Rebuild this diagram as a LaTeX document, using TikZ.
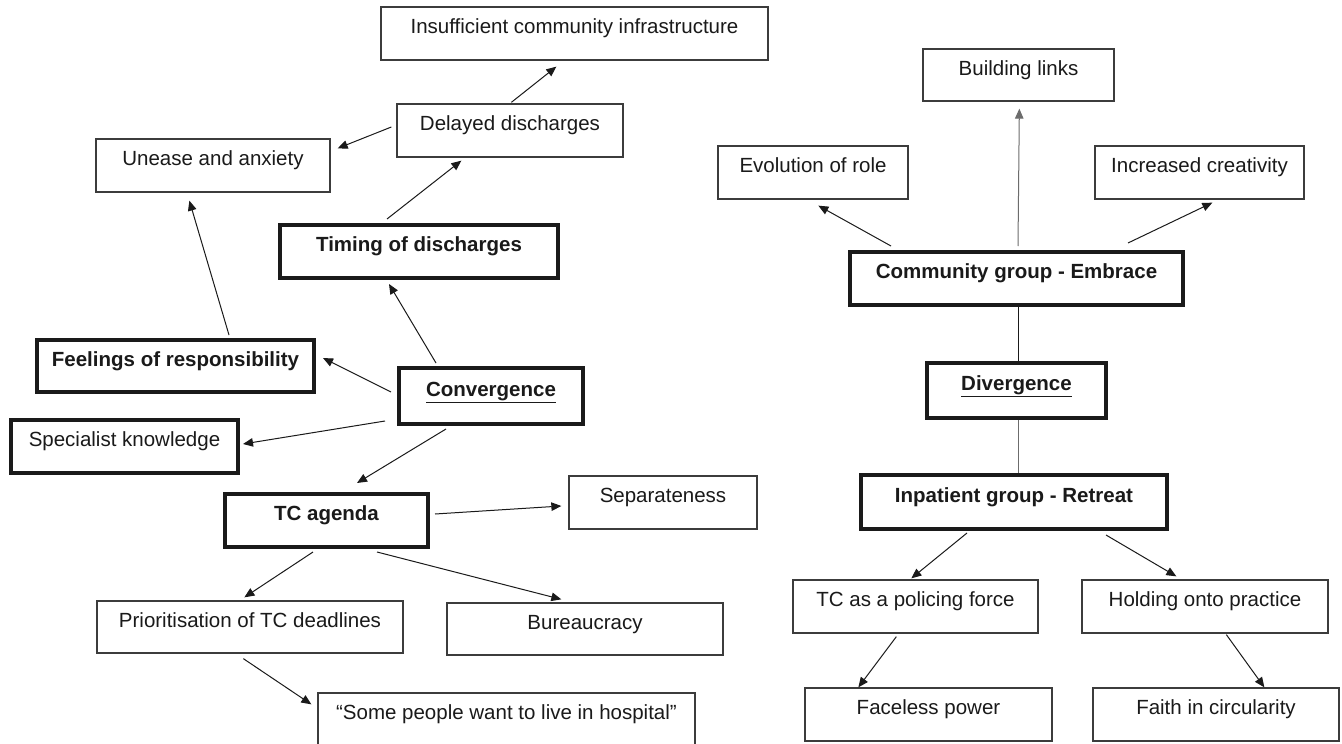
\documentclass[tikz,border=0pt]{standalone}
\usepackage{fontspec}
\setmainfont{Liberation Sans}
\usetikzlibrary{arrows.meta,calc}
\definecolor{ink}{HTML}{1A1A1A}
\definecolor{edgegray}{HTML}{3C3C3C}
\begin{document}
\begin{tikzpicture}[x=1pt,y=-1pt,
  box/.style={draw=edgegray, line width=1.3pt, rectangle, inner sep=0pt, text=ink,
    font=\fontsize{20.5}{24}\selectfont, text height=4pt, text depth=4pt},
  heavy/.style={box, draw=ink, line width=4pt},
  boldtxt/.style={font=\fontsize{20.5}{24}\selectfont\bfseries},
  conn/.style={draw=ink, line width=1pt, -{Triangle[length=10pt,width=8.5pt]}},
  plainline/.style={draw=ink, line width=1pt},
]
\clip (0,0) rectangle (1342,744);
\fill[white] (0,0) rectangle (1342,744);

% ---------- left part ----------
\node[box, minimum width=387pt, minimum height=53pt] (ins) at (574.5,33.5) {Insufficient community infrastructure};
\node[box, minimum width=226pt, minimum height=53pt] (del) at (510,130.5) {Delayed discharges};
\node[box, minimum width=234pt, minimum height=53pt] (une) at (213,165.5) {Unease and anxiety};
\node[heavy, boldtxt, minimum width=278pt, minimum height=53pt] (tim) at (419,251.5) {Timing of discharges};
\node[heavy, boldtxt, minimum width=277pt, minimum height=52pt] (fee) at (175.5,366) {Feelings of responsibility};
\node[heavy, boldtxt, minimum width=184pt, minimum height=56pt] (con) at (491,396) {\underline{Convergence}};
\node[heavy, minimum width=227pt, minimum height=53pt] (spe) at (124.5,446.5) {Specialist knowledge};
\node[heavy, boldtxt, minimum width=203pt, minimum height=53pt] (tca) at (326.5,520.5) {TC agenda};
\node[box, minimum width=188pt, minimum height=53pt] (sep) at (663,502.5) {Separateness};
\node[box, minimum width=306pt, minimum height=52pt] (pri) at (250,627) {Prioritisation of TC deadlines};
\node[box, minimum width=276pt, minimum height=52pt] (bur) at (585,629) {Bureaucracy};
\node[box, minimum width=377pt, minimum height=53pt] (som) at (506.5,719.5) {``Some people want to live in hospital''};

\draw[conn] ($(del.north west)+(115,-1)$) -- ($(ins.south west)+(176,6)$);
\draw[conn] ($(del.west)+(-5,-3.5)$) -- ($(une.north east)+(7,10)$);
\draw[conn] ($(tim.north west)+(109,-4)$) -- ($(del.south west)+(65,3)$);
\draw[conn] ($(fee.north west)+(194,-3)$) -- ($(une.south west)+(94,8)$);
\draw[conn] ($(con.north west)+(39,-3)$) -- ($(tim.south west)+(111,4)$);
\draw[conn] ($(con.west)+(-6,-4)$) -- ($(fee.east)+(7,-8)$);
\draw[conn] ($(con.south west)+(-12,-5)$) -- ($(spe.east)+(3,-2.5)$);
\draw[conn] ($(con.south west)+(49,3)$) -- ($(tca.north west)+(134,-9)$);
\draw[conn] ($(tca.east)+(5,-6.5)$) -- ($(sep.west)+(-7,3.5)$);
\draw[conn] ($(tca.south west)+(90,3)$) -- ($(pri.north west)+(148,-3)$);
\draw[conn] ($(tca.south west)+(154,3)$) -- ($(bur.north west)+(115,-3)$);
\draw[conn] ($(pri.south west)+(147,5)$) -- ($(som.north west)+(-6,12)$);

% ---------- right part ----------
\node[box, minimum width=191pt, minimum height=52pt] (bui) at (1018.5,75) {Building links};
\node[box, minimum width=190pt, minimum height=53pt] (evo) at (813,172.5) {Evolution of role};
\node[box, minimum width=209pt, minimum height=53pt] (inc) at (1199.5,172.5) {Increased creativity};
\node[heavy, boldtxt, minimum width=333pt, minimum height=53pt] (emb) at (1016.5,278.5) {Community group - Embrace};
\node[heavy, boldtxt, minimum width=179pt, minimum height=55pt] (div) at (1016.5,390.5) {\underline{Divergence}};
\node[heavy, boldtxt, minimum width=306pt, minimum height=54pt] (inp) at (1014,502) {Inpatient group - Retreat};
\node[box, minimum width=245pt, minimum height=53pt] (pol) at (915.5,606.5) {TC as a policing force};
\node[box, minimum width=246pt, minimum height=53pt] (hol) at (1205,606.5) {Holding onto practice};
\node[box, minimum width=247pt, minimum height=53pt] (fac) at (928.5,714.5) {Faceless power};
\node[box, minimum width=246pt, minimum height=53pt] (fai) at (1216,714.5) {Faith in circularity};

\draw[conn] ($(emb.north west)+(43,-4)$) -- ($(evo.south west)+(101,6)$);
\draw[conn, draw=gray!85!black] ($(emb.north west)+(170,-4)$) -- ($(bui.south west)+(97,7)$);
\draw[conn] ($(emb.north west)+(280,-7)$) -- ($(inc.south west)+(118,3)$);
\draw[plainline] ($(emb.south west)+(170,0)$) -- ($(div.north west)+(93,0)$);
\draw[plainline, draw=gray!85!black] ($(div.south west)+(93,0)$) -- ($(inp.north west)+(159,0)$);
\draw[conn] ($(inp.south west)+(108,2)$) -- ($(pol.north west)+(119,-1)$);
\draw[conn] ($(inp.south west)+(247,4)$) -- ($(hol.north west)+(95,-3)$);
\draw[conn] ($(pol.south west)+(104,3)$) -- ($(fac.north west)+(54,0)$);
\draw[conn] ($(hol.south west)+(145,1)$) -- ($(fai.north west)+(172,0)$);
\end{tikzpicture}
\end{document}
